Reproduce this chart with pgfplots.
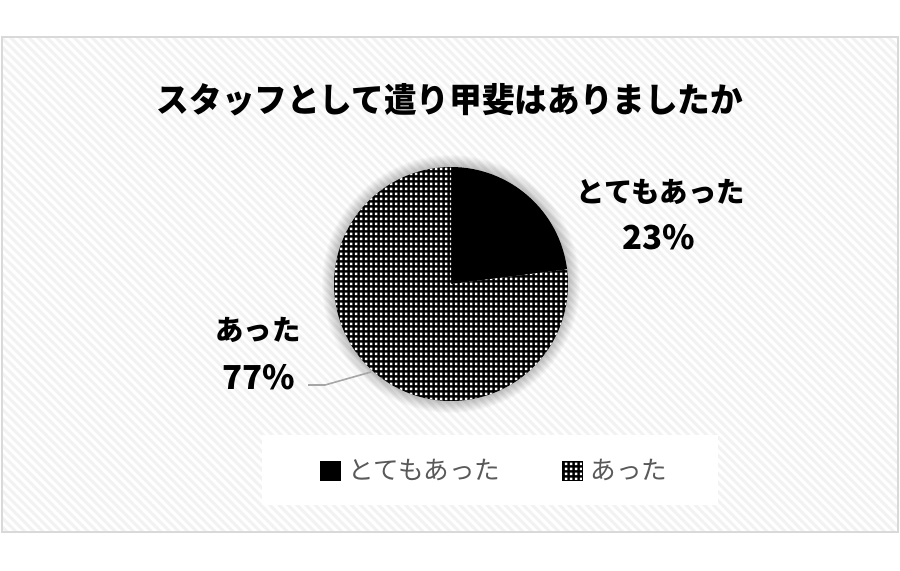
\documentclass[border=0pt]{standalone}
\usepackage{fontspec}
\setmainfont{Noto Sans CJK JP}
\usepackage{pgfplots}
\usepackage{pgfplotstable}
\pgfplotsset{compat=1.18}
\usetikzlibrary{patterns,patterns.meta}

\definecolor{boxline}{HTML}{D9D9D9}
\definecolor{leadline}{HTML}{A6A6A6}
\definecolor{legtext}{HTML}{595959}

% white square dots on transparent ground, laid over black
\pgfdeclarepatternformonly{sqdots}{\pgfqpoint{0pt}{0pt}}{\pgfqpoint{2.35pt}{2.35pt}}{\pgfqpoint{2.35pt}{2.35pt}}{%
  \pgfpathrectangle{\pgfqpoint{0.5pt}{0.5pt}}{\pgfqpoint{1.3pt}{1.3pt}}\pgfusepath{fill}}

\pgfplotstableread{
slice value
1 23
2 77
}\piedata
\pgfplotstablegetelem{0}{value}\of\piedata \let\va\pgfplotsretval
\pgfplotstablegetelem{1}{value}\of\piedata \let\vb\pgfplotsretval
\pgfmathsetmacro\angA{90-360/(\va+\vb)*\va}
\pgfmathsetmacro\angB{\angA-360/(\va+\vb)*\vb}

\begin{document}
\begin{tikzpicture}
\begin{axis}[
    scale only axis,
    width=450pt, height=285pt,
    xmin=0, xmax=900, ymin=0, ymax=570,
    hide axis, clip=false,
    legend columns=2,
    legend style={at={(axis cs:496,99)}, anchor=center, draw=none, fill=none,
        font=\fontsize{12.8}{14}\selectfont\color{legtext},
        /tikz/every even column/.append style={column sep=29pt}},
    legend image code/.code={\fill[#1] (0pt,-4.8pt) rectangle (10pt,4.8pt); \path (11.8pt,0pt);},
]
% page and framed chart area
\fill[white] (axis cs:0,0) rectangle (axis cs:900,570);
\fill[white] (axis cs:2,38) rectangle (axis cs:898,533);
\fill[pattern={Lines[angle=-45,distance=3.2pt,line width=1.5pt]}, pattern color=black!5]
    (axis cs:2,38) rectangle (axis cs:898,533);
\draw[boxline, line width=1pt] (axis cs:2,38) rectangle (axis cs:898,533);

% title
\node[font=\bfseries\fontsize{17}{20}\selectfont, xscale=0.96] at (axis cs:450,470) {スタッフとして遣り甲斐はありましたか};

% legend box
\fill[white] (axis cs:262,65) rectangle (axis cs:718,135);

% soft glow behind the pie
\pgfplotsinvokeforeach{59,59.5,...,64.5}{
  \fill[black, opacity=0.018] (axis cs:451,286) circle[radius=#1pt];
}

% pie slices from the table values
\fill[black] (axis cs:451,286) -- ++(90:58.5pt) arc[start angle=90, end angle=\angA, radius=58.5pt] -- cycle;
\fill[black, postaction={pattern=sqdots, pattern color=white}]
    (axis cs:451,286) -- ++(\angA:58.5pt) arc[start angle=\angA, end angle=\angB, radius=58.5pt] -- cycle;

% leader line and data labels
\draw[leadline, line width=0.8pt] (axis cs:308,185) -- (axis cs:325,185) -- (axis cs:371,198);
\node[font=\bfseries\fontsize{14.2}{15}\selectfont] at (axis cs:661,378) {とてもあった};
\node[font=\bfseries\fontsize{16.5}{18}\selectfont] at (axis cs:659,333) {\va\%};
\node[font=\bfseries\fontsize{14.2}{15}\selectfont] at (axis cs:258,240) {あった};
\node[font=\bfseries\fontsize{16.5}{18}\selectfont] at (axis cs:259,193) {\vb\%};

\addlegendimage{fill=black}
\addlegendentry{とてもあった}
\addlegendimage{fill=black, postaction={pattern=sqdots, pattern color=white}}
\addlegendentry{あった}
\end{axis}
\end{tikzpicture}
\end{document}
